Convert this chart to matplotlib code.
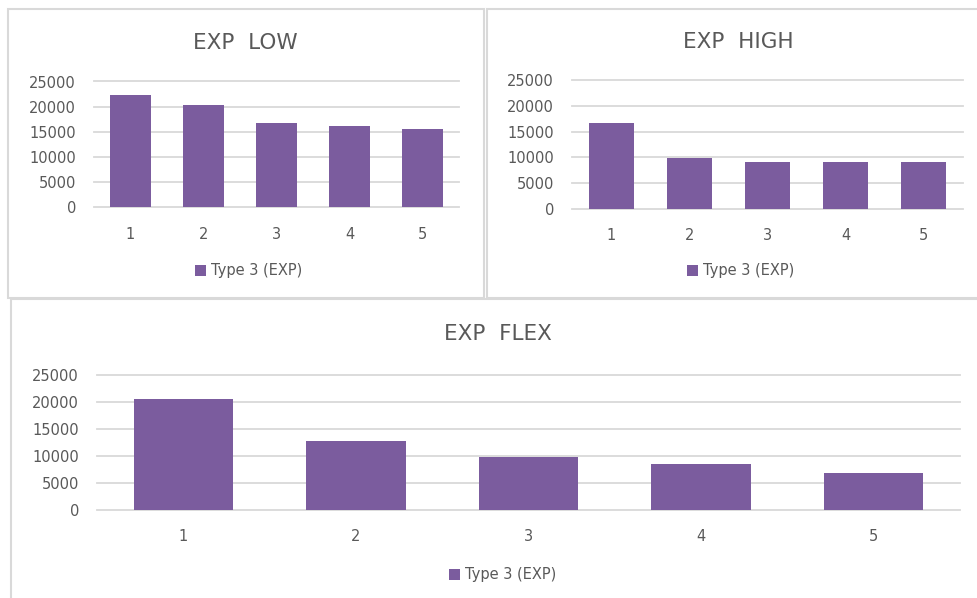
import matplotlib
matplotlib.use('Agg')
import matplotlib.pyplot as plt
from matplotlib.patches import Rectangle, Patch

# 数据
categories = [1, 2, 3, 4, 5]
exp_low = [22300, 20300, 16800, 16200, 15650]
exp_high = [16750, 9800, 9100, 9100, 9100]
exp_flex = [20550, 12800, 9900, 8600, 6800]
y_ticks = [0, 5000, 10000, 15000, 20000, 25000]
series_name = 'Type 3 (EXP)'

BAR = '#7b5c9e'
GRID = '#d9d9d9'
TEXT = '#595959'

W, H = 977, 598
plt.rcParams['font.family'] = ['DejaVu Sans']

fig = plt.figure(figsize=(W / 100, H / 100), dpi=100)


def px_rect(x0, y0, x1, y1):
    """像素坐标(左上原点) -> figure坐标 [left, bottom, width, height]"""
    return [x0 / W, 1 - y1 / H, (x1 - x0) / W, (y1 - y0) / H]


# 面板边框
for x0, y0, x1, y1 in [(8, 9, 484, 298), (487, 9, 995, 298), (11, 299, 995, 615)]:
    l, b, w, h = px_rect(x0, y0, x1, y1)
    fig.patches.append(Rectangle((l, b), w, h, transform=fig.transFigure,
                                 fill=False, edgecolor=GRID, linewidth=1.5))


def draw_panel(box, values, title, title_xy, legend_xy):
    ax = fig.add_axes(px_rect(*box))
    ax.bar(categories, values, width=0.575, color=BAR, zorder=3)
    ax.set_xlim(0.5, 5.5)
    ax.set_ylim(0, 25000)
    ax.set_yticks(y_ticks)
    ax.set_xticks(categories)
    ax.yaxis.grid(True, color=GRID, linewidth=1.3, zorder=0)
    for line in ax.yaxis.get_gridlines():
        line.set_clip_on(False)
    for s in ax.spines.values():
        s.set_visible(False)
    ax.tick_params(length=0, colors=TEXT, labelsize=10.5)
    ax.tick_params(axis='y', pad=13)
    ax.tick_params(axis='x', pad=14)

    fig.text(title_xy[0] / W, 1 - title_xy[1] / H, title, ha='center', va='center',
             fontsize=15.5, color=TEXT)
    handle = Patch(facecolor=BAR, edgecolor='none')
    ax.legend([handle], [series_name], loc='center',
              bbox_to_anchor=(legend_xy[0] / W, 1 - legend_xy[1] / H),
              bbox_transform=fig.transFigure, frameon=False, fontsize=10.5,
              labelcolor=TEXT, handlelength=0.75, handleheight=0.75,
              handletextpad=0.35, borderpad=0)
    return ax


draw_panel((94, 81.5, 459, 207.5), exp_low, 'EXP  LOW', (245, 43), (249, 271))
draw_panel((572, 80, 963, 209), exp_high, 'EXP  HIGH', (738, 42), (741, 271))
draw_panel((97, 375, 960, 510), exp_flex, 'EXP  FLEX', (498, 334), (503, 575))

fig.savefig('out.png', dpi=100)
